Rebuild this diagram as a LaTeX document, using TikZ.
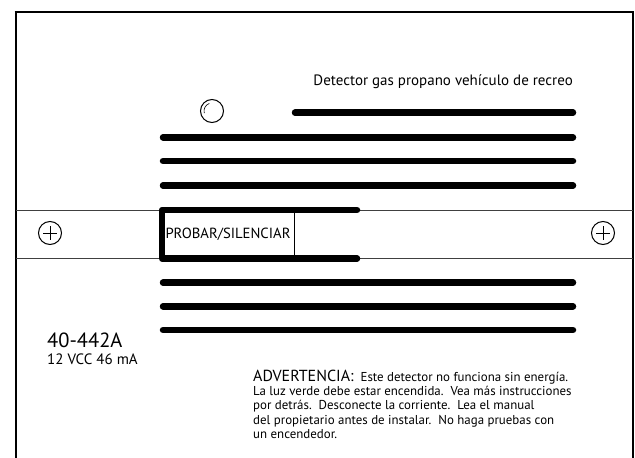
\documentclass[tikz,border=0pt]{standalone}
\usepackage{fontspec}
\setmainfont{PT Sans}
\usetikzlibrary{positioning}

\begin{document}
\begin{tikzpicture}[x=1pt,y=-1pt,
    bar/.style={line width=6.5pt,line cap=round,line join=round},
    band/.style={line width=1pt,black!75},
    screw/.style={draw,circle,line width=1pt,minimum size=23pt,inner sep=0pt}]
    \useasboundingbox (0,0) rectangle (635,458);

    % housing
    \draw[line width=2.6pt] (16,458) -- (16,11);
    \draw[line width=2.2pt] (14.7,12) -- (634,12);
    \draw[line width=1.2pt] (633,12) -- (633,458);
    \draw[band] (16,210) -- (633,210);
    \draw[band] (16,258.5) -- (633,258.5);

    % grille
    \draw[bar] (295,112.7) -- (573,112.7);
    \foreach \y in {137.3,161,185.5,282.7,306.3,330}
        \draw[bar] (163,\y) -- (573,\y);

    % led and screws
    \node[screw] (led) at (212,111) {};
    \draw[line width=0.6pt] (led.center) ++(165:8) arc[start angle=165,end angle=250,radius=8];
    \foreach \x/\n in {50/screwL,603/screwR}
    {
        \node[screw] (\n) at (\x,233) {};
        \draw[line width=0.9pt] (\n.center) ++(-7,0) -- ++(14,0);
        \draw[line width=0.9pt] (\n.center) ++(0,-7) -- ++(0,14);
    }

    % test button
    \node[draw,line width=0.8pt,minimum width=132pt,minimum height=48.5pt,inner sep=0pt,outer sep=0pt,
        font=\fontsize{14.7}{16}\selectfont] (btn) at (228,234.25) {PROBAR/SILENCIAR};
    \draw[bar] (357,210) -- (btn.north west) -- (btn.south west) -- (357,258.5);

    % labels
    \node[anchor=base east,inner sep=0pt,font=\fontsize{15}{17}\selectfont] (title) at (573,85)
        {Detector gas propano vehículo de recreo};
    \node[anchor=base west,inner sep=0pt,font=\fontsize{20.5}{24}\selectfont] (model) at (47,347.5) {40-442A};
    \node[anchor=base west,inner sep=0pt,font=\fontsize{15}{17}\selectfont] (rating) at (47,364) {12 VCC 46 mA};
    \node[anchor=north west,inner sep=0pt,align=left,font=\fontsize{12.9}{14.4}\selectfont] (warning) at (253,369.5)
        {{\fontsize{16}{14.4}\selectfont ADVERTENCIA:}\ \ Este detector no funciona sin energía.\\
         La luz verde debe estar encendida.\ \ Vea más instrucciones\\
         por detrás.\ \ Desconecte la corriente.\ \ Lea el manual\\
         del propietario antes de instalar.\ \ No haga pruebas con\\
         un encendedor.};
\end{tikzpicture}
\end{document}
